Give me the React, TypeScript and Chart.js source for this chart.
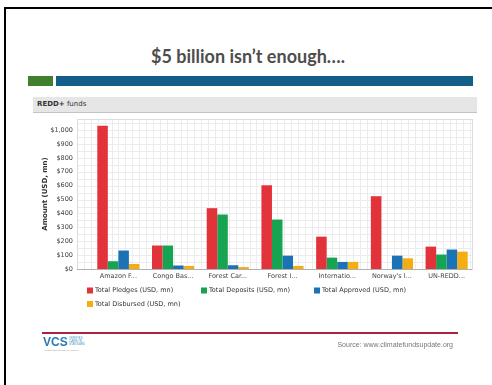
import React, { useEffect, useRef } from "react";
import { Chart, registerables } from "chart.js";
Chart.register(...registerables);

const categories = ["Amazon F...", "Congo Bas...", "Forest Car...", "Forest I...", "Internatio...", "Norway's I...", "UN-REDD..."];
const pledges = [1032, 169, 438, 603, 233, 524, 161];
const deposits = [56, 169, 392, 356, 82, 0, 104];
const approved = [133, 25, 27, 96, 51, 96, 140];
const disbursed = [36, 22, 14, 22, 51, 77, 125];
const seriesNames = ["Total Pledges (USD, mn)", "Total Deposits (USD, mn)", "Total Approved (USD, mn)", "Total Disbursed (USD, mn)"];
const seriesColors = ["#e2333b", "#16a352", "#1b72b5", "#f4ae12"];
const yMax = 1080;
const yStep = 100;
const yTitle = "Amount (USD, mn)";

const chartFont = "'DejaVu Sans', sans-serif";

const bgGrid = {
  id: "bgGrid",
  beforeDatasetsDraw(chart: any) {
    const { ctx, chartArea: a } = chart;
    const left = a.left - 14;
    const right = a.right - 2;
    ctx.save();
    ctx.strokeStyle = "#ececec";
    ctx.lineWidth = 1;
    ctx.beginPath();
    for (let x = left; x <= right; x += 6.9) {
      ctx.moveTo(Math.round(x) + 0.5, a.top);
      ctx.lineTo(Math.round(x) + 0.5, a.bottom);
    }
    const ys = chart.scales.y;
    for (let v = 0; v <= yMax; v += 50) {
      const y = Math.round(ys.getPixelForValue(v)) + 0.5;
      ctx.moveTo(left, y);
      ctx.lineTo(right, y);
    }
    ctx.stroke();
    ctx.strokeStyle = "#dcdcdc";
    ctx.strokeRect(Math.round(left) + 0.5, Math.round(a.top) + 0.5, Math.round(right - left), Math.round(a.bottom - a.top));
    ctx.strokeStyle = "#b0b0b0";
    ctx.beginPath();
    ctx.moveTo(left, Math.round(a.bottom) + 0.5);
    ctx.lineTo(right, Math.round(a.bottom) + 0.5);
    ctx.stroke();
    ctx.restore();
  },
};

const extras = {
  id: "extras",
  afterDraw(chart: any) {
    const { ctx, chartArea: a } = chart;
    ctx.save();
    // y axis title
    ctx.translate(45, (a.top + a.bottom) / 2);
    ctx.rotate(-Math.PI / 2);
    ctx.font = "bold 7px " + chartFont;
    ctx.fillStyle = "#333";
    ctx.textAlign = "center";
    ctx.textBaseline = "middle";
    ctx.fillText(yTitle, 0, 0);
    ctx.restore();
    // legend
    ctx.save();
    ctx.font = "6.5px " + chartFont;
    ctx.textBaseline = "middle";
    ctx.textAlign = "left";
    const cols = [87, 201, 314];
    const rows = [290.5, 304];
    seriesNames.forEach((name, i) => {
      const x = cols[i % 3];
      const y = rows[Math.floor(i / 3)];
      ctx.fillStyle = seriesColors[i];
      ctx.fillRect(x, y - 3, 6, 6);
      ctx.fillStyle = "#333";
      ctx.fillText(name, x + 8, y);
    });
    ctx.restore();
  },
};

export default function App() {
  const ref = useRef<HTMLCanvasElement | null>(null);
  useEffect(() => {
    if (!ref.current) return;
    const chart = new Chart(ref.current, {
      type: "bar",
      data: {
        labels: categories,
        datasets: [pledges, deposits, approved, disbursed].map((d, i) => ({
          label: seriesNames[i],
          data: d,
          backgroundColor: seriesColors[i],
          borderWidth: 0,
          barPercentage: 1,
          categoryPercentage: 0.77,
        })),
      },
      options: {
        responsive: false,
        animation: false,
        devicePixelRatio: 1,
        layout: { padding: { left: 30, right: 18, top: 119, bottom: 96 } },
        plugins: { legend: { display: false }, tooltip: { enabled: false } },
        scales: {
          x: {
            grid: { display: false, drawTicks: false },
            border: { display: false },
            ticks: { font: { family: chartFont, size: 6.5 }, color: "#444", padding: 3, maxRotation: 0, autoSkip: false },
            afterFit: (s: any) => { s.height = 20; },
          },
          y: {
            min: 0,
            max: yMax,
            grid: { display: false, drawTicks: false },
            border: { display: false },
            ticks: {
              stepSize: yStep,
              includeBounds: false,
              padding: 18,
              font: { family: chartFont, size: 6.5 },
              color: "#444",
              callback: (v: any) => "$" + Number(v).toLocaleString("en-US"),
            },
            afterFit: (s: any) => { s.width = 61; },
          },
        },
      },
      plugins: [bgGrid, extras],
    });
    return () => chart.destroy();
  }, []);

  return (
    <div style={{ position: "absolute", left: 0, top: 0, width: 492, height: 385, background: "#fff", overflow: "hidden" }}>
      <div style={{ position: "absolute", left: 4, top: 7, width: 500, height: 400, borderTop: "2px solid #000", borderLeft: "2px solid #000" }} />
      <div style={{ position: "absolute", left: 0, top: 43, width: 496, textAlign: "center", fontFamily: "Lato, sans-serif", fontWeight: 700, fontSize: 18, color: "#4d4d4d", lineHeight: "26px" }}>
        $5 billion isn’t enough….
      </div>
      <div style={{ position: "absolute", left: 28, top: 76, width: 25, height: 10, background: "#3f7f2e" }} />
      <div style={{ position: "absolute", left: 56, top: 76, width: 417, height: 10, background: "#135d89" }} />
      <div style={{ position: "absolute", left: 33, top: 97, width: 440, height: 15, background: "#e6e6e6", borderBottom: "1px solid #c4c4c4", fontFamily: "'DejaVu Sans', sans-serif", fontSize: 7, lineHeight: "15px", color: "#333", paddingLeft: 4, boxSizing: "content-box" }}>
        <b>REDD+</b> funds
      </div>
      <canvas ref={ref} width={492} height={385} style={{ position: "absolute", left: 0, top: 0, width: 492, height: 385 }} />
      <div style={{ position: "absolute", left: 42, top: 332, width: 416, height: 2, background: "#a3263f" }} />
      <div style={{ position: "absolute", left: 43, top: 335, fontFamily: "'Liberation Sans', sans-serif", fontWeight: 700, fontSize: 12, color: "#2a7ab8", lineHeight: "14px" }}>
        VCS
      </div>
      <div style={{ position: "absolute", left: 69, top: 337, width: 18, height: 9, fontFamily: "'Liberation Sans', sans-serif", fontSize: 3, lineHeight: "3px", color: "#5aa0c8" }}>
        VERIFIED CARBON STANDARD
      </div>
      <div style={{ position: "absolute", left: 43, top: 349, fontFamily: "'Liberation Sans', sans-serif", fontSize: 2.5, color: "#999" }}>
        A Global Benchmark for Carbon
      </div>
      <div style={{ position: "absolute", right: 39, top: 341, fontFamily: "'Liberation Sans', sans-serif", fontSize: 7, color: "#777", whiteSpace: "nowrap" }}>
        Source: www.climatefundsupdate.org
      </div>
    </div>
  );
}
